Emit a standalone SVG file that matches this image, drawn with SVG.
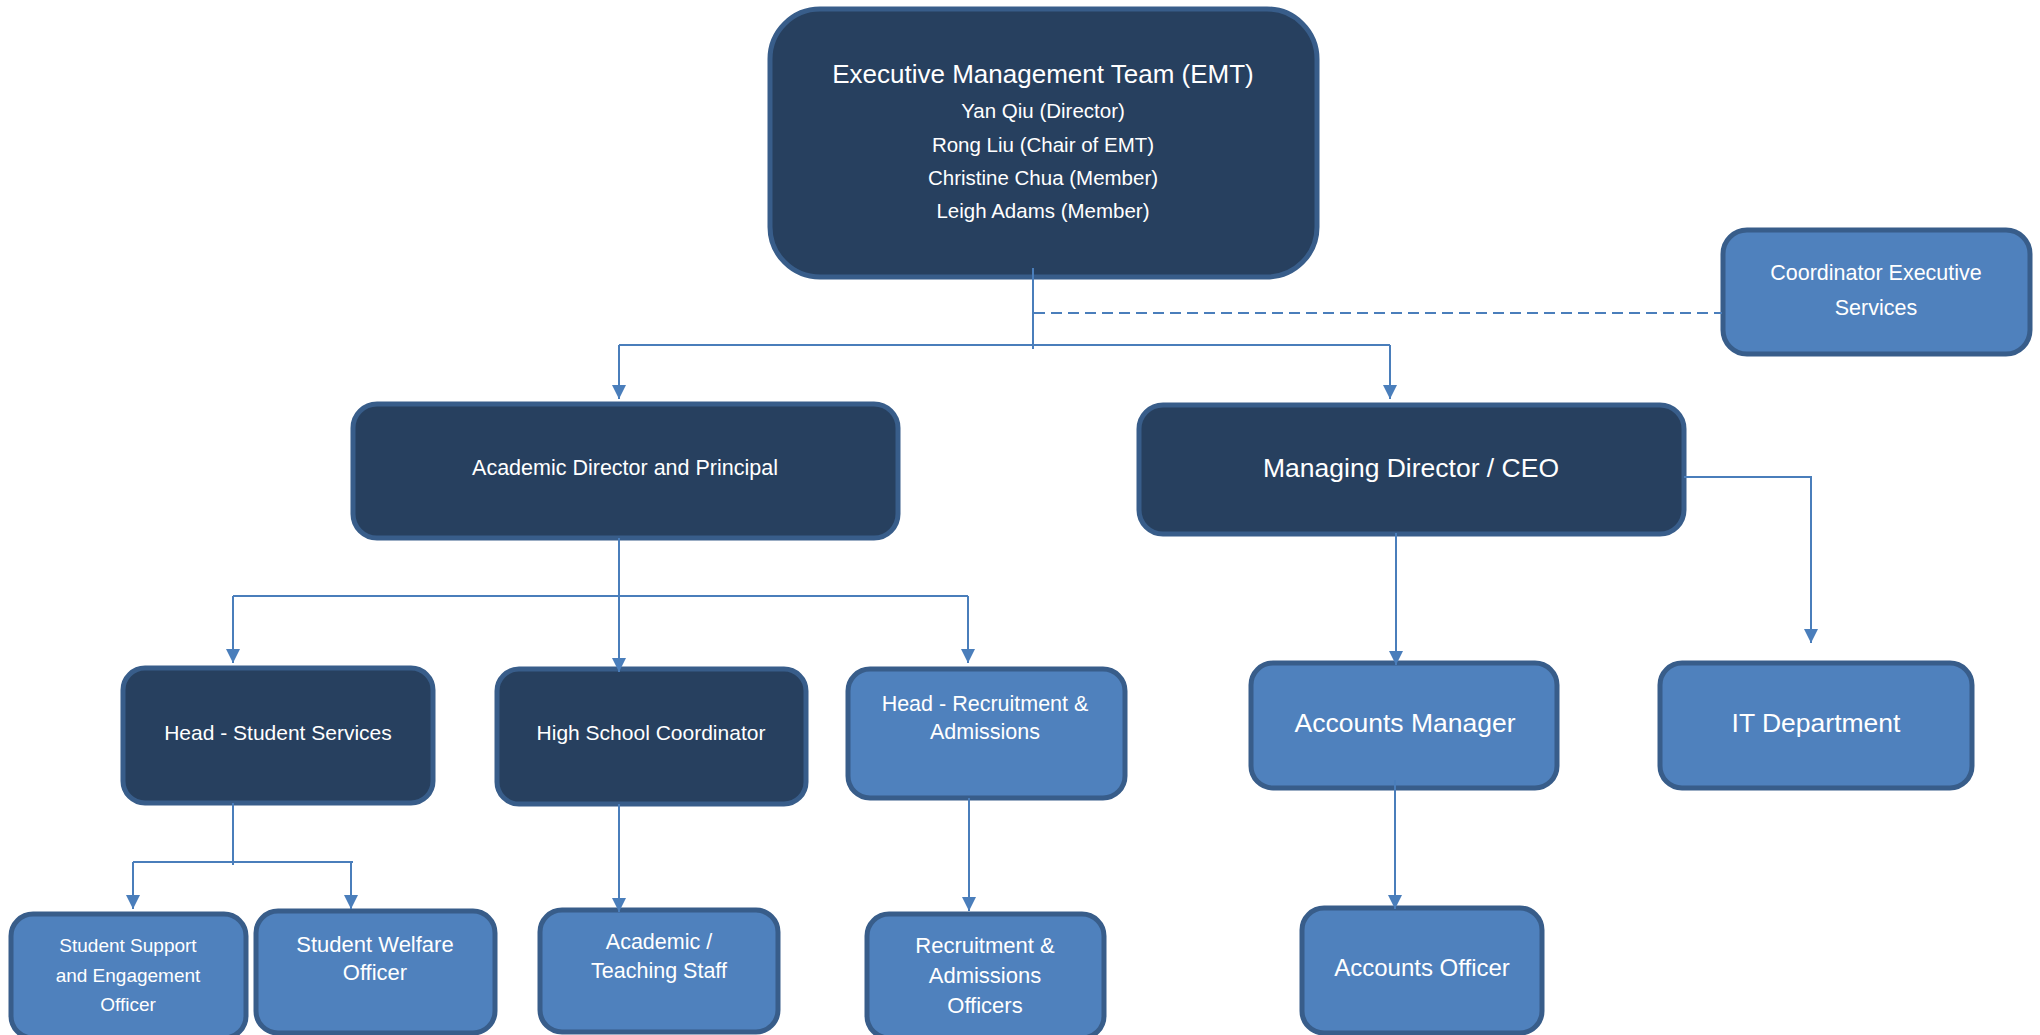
<svg xmlns="http://www.w3.org/2000/svg" width="2040" height="1035" viewBox="0 0 2040 1035">
  <style>
    .box { stroke: #385D8A; stroke-width: 5; }
    .dark { fill: #27405F; }
    .light { fill: #4F81BD; }
    .lbl { font-family: "Liberation Sans", Arial, sans-serif; fill: #FFFFFF; text-anchor: middle; }
    .link { fill: none; stroke: #4A7EBB; stroke-width: 2; }
    .arrow { marker-end: url(#head); }
    .dash { stroke-dasharray: 11 6; }
  </style>
  <defs>
    <marker id="head" markerUnits="userSpaceOnUse" markerWidth="14" markerHeight="16" viewBox="0 0 14 16" refX="14" refY="8" orient="auto">
      <path d="M0,1 L14,8 L0,15 Z" fill="#4A7EBB"/>
    </marker>
  </defs>

  <rect width="2040" height="1035" fill="#FFFFFF"/>

  <!-- Top level -->
  <g id="emt">
    <rect class="box dark" x="770" y="9" width="547" height="268" rx="50"/>
    <text class="lbl" x="1043" y="83" font-size="26">Executive Management Team (EMT)</text>
    <text class="lbl" x="1043" y="118" font-size="20.5">Yan Qiu (Director)</text>
    <text class="lbl" x="1043" y="152" font-size="20.5">Rong Liu (Chair of EMT)</text>
    <text class="lbl" x="1043" y="185" font-size="20.5">Christine Chua (Member)</text>
    <text class="lbl" x="1043" y="218" font-size="20.5">Leigh Adams (Member)</text>
  </g>

  <g id="coordinator-exec">
    <rect class="box light" x="1723" y="230" width="307" height="124" rx="24"/>
    <text class="lbl" x="1876" y="280" font-size="21.5">Coordinator Executive</text>
    <text class="lbl" x="1876" y="315" font-size="21.5">Services</text>
  </g>

  <!-- Second level -->
  <g id="academic-director">
    <rect class="box dark" x="353" y="404" width="545" height="134" rx="24"/>
    <text class="lbl" x="625" y="475" font-size="21.5">Academic Director and Principal</text>
  </g>

  <g id="managing-director">
    <rect class="box dark" x="1139" y="405" width="545" height="129" rx="24"/>
    <text class="lbl" x="1411" y="477" font-size="26.5">Managing Director / CEO</text>
  </g>

  <!-- Third level -->
  <g id="head-student-services">
    <rect class="box dark" x="123" y="668" width="310" height="135" rx="22"/>
    <text class="lbl" x="278" y="740" font-size="21">Head - Student Services</text>
  </g>

  <g id="high-school-coordinator">
    <rect class="box dark" x="497" y="669" width="309" height="135" rx="22"/>
    <text class="lbl" x="651" y="740" font-size="21">High School Coordinator</text>
  </g>

  <g id="head-recruitment">
    <rect class="box light" x="848" y="669" width="277" height="129" rx="22"/>
    <text class="lbl" x="985" y="711" font-size="21.5">Head - Recruitment &amp;</text>
    <text class="lbl" x="985" y="739" font-size="21.5">Admissions</text>
  </g>

  <g id="accounts-manager">
    <rect class="box light" x="1251" y="663" width="306" height="125" rx="22"/>
    <text class="lbl" x="1405" y="732" font-size="26.5">Accounts Manager</text>
  </g>

  <g id="it-department">
    <rect class="box light" x="1660" y="663" width="312" height="125" rx="22"/>
    <text class="lbl" x="1816" y="732" font-size="26.5">IT Department</text>
  </g>

  <!-- Fourth level -->
  <g id="student-support">
    <rect class="box light" x="11" y="914" width="235" height="124" rx="22"/>
    <text class="lbl" x="128" y="952" font-size="19">Student Support</text>
    <text class="lbl" x="128" y="982" font-size="19">and Engagement</text>
    <text class="lbl" x="128" y="1011" font-size="19">Officer</text>
  </g>

  <g id="student-welfare">
    <rect class="box light" x="256" y="911" width="239" height="122" rx="22"/>
    <text class="lbl" x="375" y="952" font-size="22">Student Welfare</text>
    <text class="lbl" x="375" y="980" font-size="22">Officer</text>
  </g>

  <g id="teaching-staff">
    <rect class="box light" x="540" y="910" width="238" height="122" rx="22"/>
    <text class="lbl" x="659" y="949" font-size="21.5">Academic /</text>
    <text class="lbl" x="659" y="978" font-size="21.5">Teaching Staff</text>
  </g>

  <g id="recruitment-officers">
    <rect class="box light" x="867" y="914" width="237" height="124" rx="22"/>
    <text class="lbl" x="985" y="953" font-size="22">Recruitment &amp;</text>
    <text class="lbl" x="985" y="983" font-size="22">Admissions</text>
    <text class="lbl" x="985" y="1013" font-size="22">Officers</text>
  </g>

  <g id="accounts-officer">
    <rect class="box light" x="1302" y="908" width="240" height="125" rx="22"/>
    <text class="lbl" x="1422" y="976" font-size="24">Accounts Officer</text>
  </g>

  <!-- Reporting lines -->
  <g id="connectors">
    <!-- EMT to directors -->
    <path class="link" d="M1033,268 V349"/>
    <path class="link dash" d="M1034,313 H1722"/>
    <path class="link" d="M619,345 H1390"/>
    <path class="link arrow" d="M619,345 V399"/>
    <path class="link arrow" d="M1390,345 V399"/>

    <!-- Academic Director to heads -->
    <path class="link arrow" d="M619,538 V672"/>
    <path class="link" d="M233,596 H968"/>
    <path class="link arrow" d="M233,596 V663"/>
    <path class="link arrow" d="M968,596 V663"/>

    <!-- Managing Director branch -->
    <path class="link arrow" d="M1396,533 V665"/>
    <path class="link arrow" d="M1684,477 H1811 V643"/>
    <path class="link arrow" d="M1395,780 V909"/>

    <!-- Student services to officers -->
    <path class="link" d="M233,803 V865"/>
    <path class="link" d="M133,862 H353"/>
    <path class="link arrow" d="M133,862 V909"/>
    <path class="link arrow" d="M351,862 V909"/>

    <!-- High school and recruitment -->
    <path class="link arrow" d="M619,804 V912"/>
    <path class="link arrow" d="M969,798 V911"/>
  </g>
</svg>
